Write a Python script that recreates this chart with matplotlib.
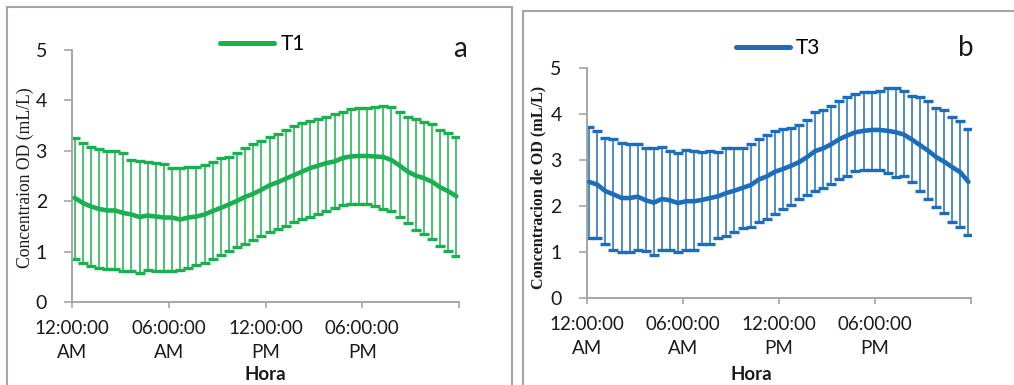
import numpy as np
import matplotlib
matplotlib.use("Agg")
import matplotlib.pyplot as plt
from matplotlib.patches import Rectangle
from matplotlib.lines import Line2D
from matplotlib.transforms import ScaledTranslation

# Half-hourly sampling over one day (hours since midnight)
hours = np.arange(0, 24, 0.5)

tick_labels = ["12:00:00\nAM", "06:00:00\nAM", "12:00:00\nPM", "06:00:00\nPM", ""]

# Treatment T1: mean dissolved oxygen and error-bar limits (mL/L)
t1_mean = [2.07, 1.97, 1.90, 1.85, 1.82, 1.82, 1.77, 1.74, 1.69, 1.72,
           1.70, 1.68, 1.68, 1.64, 1.68, 1.70, 1.74, 1.81, 1.87, 1.94,
           2.01, 2.09, 2.15, 2.23, 2.32, 2.38, 2.45, 2.52, 2.59, 2.66,
           2.71, 2.76, 2.79, 2.86, 2.89, 2.90, 2.90, 2.89, 2.88, 2.82,
           2.71, 2.59, 2.51, 2.46, 2.39, 2.28, 2.20, 2.10]
t1_upper = [3.25, 3.15, 3.08, 3.03, 3.00, 3.00, 2.95, 2.82, 2.81, 2.79,
            2.76, 2.74, 2.66, 2.66, 2.68, 2.69, 2.72, 2.79, 2.85, 2.88,
            2.96, 3.05, 3.13, 3.19, 3.27, 3.33, 3.41, 3.50, 3.56, 3.60,
            3.63, 3.68, 3.73, 3.78, 3.83, 3.85, 3.85, 3.87, 3.90, 3.87,
            3.78, 3.68, 3.63, 3.58, 3.53, 3.42, 3.35, 3.27]
t1_lower = [0.86, 0.78, 0.71, 0.67, 0.66, 0.66, 0.62, 0.62, 0.59, 0.64,
            0.62, 0.62, 0.63, 0.65, 0.68, 0.73, 0.77, 0.85, 0.93, 1.02,
            1.09, 1.16, 1.24, 1.32, 1.40, 1.45, 1.52, 1.59, 1.65, 1.70,
            1.74, 1.81, 1.87, 1.93, 1.95, 1.95, 1.94, 1.90, 1.85, 1.80,
            1.69, 1.57, 1.44, 1.36, 1.26, 1.12, 1.01, 0.92]

# Treatment T3
t3_mean = [2.53, 2.47, 2.33, 2.26, 2.18, 2.18, 2.21, 2.13, 2.08, 2.16,
           2.13, 2.07, 2.11, 2.11, 2.14, 2.18, 2.22, 2.29, 2.34, 2.40,
           2.46, 2.58, 2.65, 2.75, 2.81, 2.88, 2.96, 3.07, 3.20, 3.26,
           3.35, 3.46, 3.54, 3.61, 3.64, 3.66, 3.66, 3.64, 3.61, 3.56,
           3.45, 3.33, 3.21, 3.07, 2.97, 2.85, 2.74, 2.53]
t3_upper = [3.73, 3.64, 3.48, 3.46, 3.37, 3.35, 3.35, 3.27, 3.26, 3.28,
            3.21, 3.16, 3.23, 3.20, 3.17, 3.21, 3.17, 3.26, 3.26, 3.27,
            3.35, 3.46, 3.54, 3.63, 3.67, 3.71, 3.77, 3.88, 4.05, 4.09,
            4.18, 4.29, 4.37, 4.44, 4.49, 4.49, 4.51, 4.58, 4.58, 4.51,
            4.40, 4.38, 4.29, 4.13, 4.10, 3.95, 3.86, 3.68]
t3_lower = [1.31, 1.31, 1.19, 1.05, 1.00, 1.01, 1.06, 1.02, 0.95, 1.05,
            1.05, 1.01, 1.05, 1.06, 1.19, 1.19, 1.32, 1.35, 1.44, 1.52,
            1.55, 1.66, 1.73, 1.84, 1.95, 2.03, 2.16, 2.25, 2.34, 2.40,
            2.49, 2.60, 2.66, 2.76, 2.80, 2.80, 2.80, 2.73, 2.63, 2.65,
            2.53, 2.33, 2.16, 1.98, 1.86, 1.65, 1.55, 1.37]

GREEN = "#1BB04F"
BLUE = "#1D6EBA"
GRAY = "#A6A6A6"
SANS = "Lato"
SERIF = "Liberation Serif"

W, H = 1014, 385
fig = plt.figure(figsize=(W / 100, H / 100), dpi=100)


def px_box(x0, y0, x1, y1):
    """Axes rectangle from pixel corners (top-left origin)."""
    return [x0 / W, 1 - y1 / H, (x1 - x0) / W, (y1 - y0) / H]


# Chart-area frames
fig.add_artist(Rectangle((7 / W, -0.1), (512 - 7) / W, 1.1 - 7 / H,
                         transform=fig.transFigure, fill=False,
                         edgecolor=GRAY, lw=1.5))
fig.add_artist(Rectangle((523 / W, -0.1), 1.2, 1.1 - 11 / H,
                         transform=fig.transFigure, fill=False,
                         edgecolor=GRAY, lw=1.5))

XLIM = (-0.16, 23.66)


def panel(box, mean, upper, lower, color, label, letter, letter_xy,
          leg_xy, ylabel, ylabel_xy, ylabel_size, ylabel_weight, hora_xy):
    ax = fig.add_axes(box)
    mean = np.asarray(mean)
    yerr = [mean - np.asarray(lower), np.asarray(upper) - mean]
    ax.errorbar(hours, mean, yerr=yerr, fmt="none", ecolor=color,
                elinewidth=1.1, capsize=3.6, capthick=2.4, zorder=2)
    ax.plot(hours, mean, color=color, lw=3.3, solid_capstyle="round",
            zorder=3)

    ax.set_xlim(*XLIM)
    ax.set_ylim(0, 5)
    ax.set_xticks(np.linspace(XLIM[0], XLIM[1], 5))
    ax.set_xticklabels(tick_labels, fontsize=13.5, family=SANS,
                       linespacing=1.45)
    ax.set_yticks(range(6))
    ax.set_yticklabels([str(v) for v in range(6)], fontsize=14,
                       family=SANS)
    for lab in ax.get_xticklabels():
        lab.set_transform(lab.get_transform() +
                          ScaledTranslation(3.5 / 100, 0, fig.dpi_scale_trans))

    for side in ("top", "right"):
        ax.spines[side].set_visible(False)
    for side in ("left", "bottom"):
        ax.spines[side].set_color(GRAY)
        ax.spines[side].set_linewidth(1.4)
    ax.tick_params(axis="y", direction="out", length=6, width=1.2,
                   color=GRAY, pad=12, labelcolor="#1a1a1a")
    ax.tick_params(axis="x", direction="out", length=4.5, width=1.2,
                   color=GRAY, pad=8.5, labelcolor="#1a1a1a")

    handle = Line2D([], [], color=color, lw=3.6, solid_capstyle="round")
    ax.legend([handle], [label], loc="center",
              bbox_to_anchor=(leg_xy[0] / W, 1 - leg_xy[1] / H),
              bbox_transform=fig.transFigure, frameon=False,
              prop={"family": SANS, "size": 15}, handlelength=2.6,
              handletextpad=0.3, borderpad=0, borderaxespad=0)

    fig.text(letter_xy[0] / W, 1 - letter_xy[1] / H, letter,
             ha="center", va="center", fontsize=20, family=SANS,
             color="#1a1a1a")
    fig.text(ylabel_xy[0] / W, 1 - ylabel_xy[1] / H, ylabel,
             rotation=90, ha="center", va="center", fontsize=ylabel_size,
             family=SERIF, weight=ylabel_weight, color="#1a1a1a")
    fig.text(hora_xy[0] / W, 1 - hora_xy[1] / H, "Hora", ha="center",
             va="center", fontsize=13.5, family=SANS, weight="bold",
             color="#1a1a1a")
    return ax


panel(px_box(72, 50, 459, 302.3), t1_mean, t1_upper, t1_lower, GREEN,
      "T1", "a", (460, 49), (262.5, 44), "Concentraion OD (mL/L)",
      (25, 177.5), 12.7, "normal", (265, 375))

panel(px_box(586.7, 68.3, 971, 298.3), t3_mean, t3_upper, t3_lower, BLUE,
      "T3", "b", (966, 48), (778, 48), "Concentracion de OD (mL/L)",
      (538, 187), 11.6, "bold", (751.7, 375))

fig.savefig("out.png", dpi=100)
